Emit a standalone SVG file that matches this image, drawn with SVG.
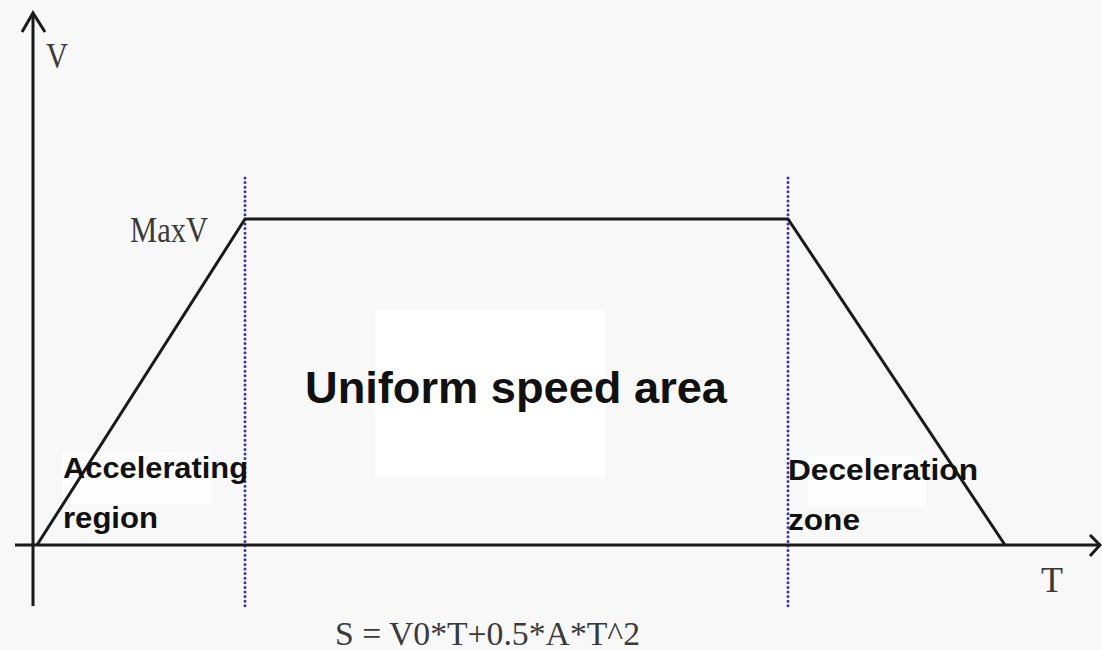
<svg xmlns="http://www.w3.org/2000/svg" width="1102" height="650" viewBox="0 0 1102 650">
<style>
.serif{font-family:"Liberation Serif","Times New Roman",serif;fill:#3a3a3a}
.bold{font-family:"Liberation Sans",Arial,sans-serif;font-weight:bold;fill:#111}
.axis{stroke:#1a1a1a;stroke-width:3;fill:none}
.curve{stroke:#1a1a1a;stroke-width:3;fill:none;stroke-linejoin:miter}
.guide{stroke:#3535b5;stroke-width:3;stroke-linecap:round;stroke-dasharray:0 4.6;fill:none}
</style>
<rect width="1102" height="650" fill="#f8f8f8"/>
<rect x="375" y="310" width="230" height="167" fill="#ffffff"/>
<rect x="62" y="452" width="150" height="52" fill="#fdfdfd"/>
<rect x="808" y="455" width="118" height="52" fill="#fdfdfd"/>
<g id="connectors">
<path class="guide" d="M245 178 V606"/>
<path class="guide" d="M788 178 V606"/>
<path class="axis" d="M33 13 V606"/>
<path class="axis" d="M22 32 L33 13 L45 32"/>
<path class="axis" d="M15 545 H1099"/>
<path class="axis" d="M1090 535 L1100 545 L1090 556"/>
<path class="curve" d="M37 545 L245 219 L788 219 L1005 545"/>
</g>
<g id="label-v"><text class="serif" x="46" y="68" font-size="36" textLength="22" lengthAdjust="spacingAndGlyphs">V</text></g>
<g id="label-maxv"><text class="serif" x="130" y="242" font-size="36" textLength="78" lengthAdjust="spacingAndGlyphs">MaxV</text></g>
<g id="label-t"><text class="serif" x="1041" y="592" font-size="36" textLength="22" lengthAdjust="spacingAndGlyphs">T</text></g>
<g id="formula"><text class="serif" x="335" y="645" font-size="33" textLength="305" lengthAdjust="spacingAndGlyphs">S = V0*T+0.5*A*T^2</text></g>
<g id="uniform"><text class="bold" x="305" y="403" font-size="44" textLength="422" lengthAdjust="spacingAndGlyphs">Uniform speed area</text></g>
<g id="accelerating">
<text class="bold" x="63" y="478" font-size="29" textLength="185" lengthAdjust="spacingAndGlyphs">Accelerating</text>
<text class="bold" x="63" y="528" font-size="29" textLength="95" lengthAdjust="spacingAndGlyphs">region</text>
</g>
<g id="deceleration">
<text class="bold" x="788" y="480" font-size="29" textLength="190" lengthAdjust="spacingAndGlyphs">Deceleration</text>
<text class="bold" x="788" y="530" font-size="29" textLength="72" lengthAdjust="spacingAndGlyphs">zone</text>
</g>
</svg>
